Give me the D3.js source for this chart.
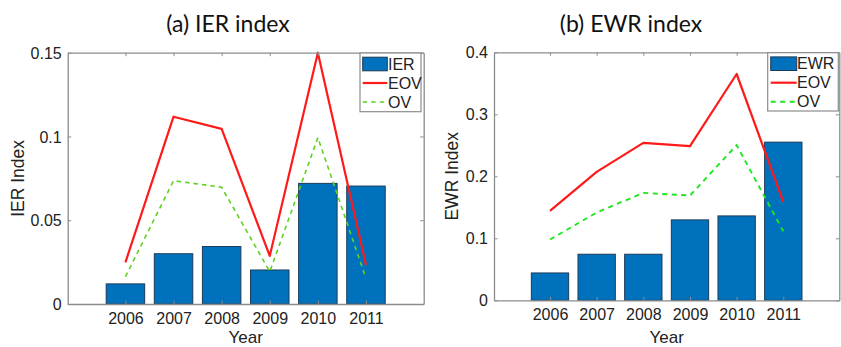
<!DOCTYPE html>
<html>
<head>
<meta charset="utf-8">
<script src="https://cdn.jsdelivr.net/npm/d3@7"></script>
<style>
  html, body { margin: 0; padding: 0; background: #fff; }
  svg { display: block; }
</style>
</head>
<body>
<svg id="chart" width="841" height="347"></svg>
<script>
// Years on the x axis
const years = [2006, 2007, 2008, 2009, 2010, 2011];

// Panel (a): IER index
const ierBars = [0.012, 0.030, 0.0343, 0.0203, 0.072, 0.0704];
const ierEOV  = [0.0249, 0.1118, 0.1045, 0.0287, 0.150, 0.0233];
const ierOV   = [0.0163, 0.0736, 0.0697, 0.0193, 0.0993, 0.0153];
const ierTicks = [0, 0.05, 0.1, 0.15];
const ierTickLabels = ["0", "0.05", "0.1", "0.15"];

// Panel (b): EWR index
const ewrBars = [0.0441, 0.0743, 0.0743, 0.1297, 0.1361, 0.2551];
const ewrEOV  = [0.1442, 0.2072, 0.254, 0.2487, 0.365, 0.1588];
const ewrOV   = [0.098, 0.1416, 0.1733, 0.169, 0.2503, 0.1114];
const ewrTicks = [0, 0.1, 0.2, 0.3, 0.4];
const ewrTickLabels = ["0", "0.1", "0.2", "0.3", "0.4"];

const svg = d3.select("#chart");
const tickFont = "'Liberation Sans', Arial, sans-serif";
const titleFont = "Lato, 'Open Sans', sans-serif";

const panels = [
  {
    title: "(a) IER index", titleX: 228, ylabel: "IER Index", ylabelX: 18,
    barName: "IER", bars: ierBars, eov: ierEOV, ov: ierOV,
    yMax: 0.15, ticks: ierTicks, tickLabels: ierTickLabels,
    left: 67.7, right: 423.7, top: 52.7, bottom: 304,
    ovColor: "#5fd11f", ovWidth: 1.6, ovDash: "4.5,4",
    legend: { x0: 360, x1: 421, y0: 53, y1: 111.7, patchX0: 362.7, patchX1: 387.3, textX: 388 }
  },
  {
    title: "(b) EWR index", titleX: 631, ylabel: "EWR Index", ylabelX: 451.7,
    barName: "EWR", bars: ewrBars, eov: ewrEOV, ov: ewrOV,
    yMax: 0.4, ticks: ewrTicks, tickLabels: ewrTickLabels,
    left: 494, right: 839.3, top: 52.3, bottom: 300.3,
    ovColor: "#1ee61e", ovWidth: 1.9, ovDash: "5,4.5",
    legend: { x0: 767.7, x1: 838.3, y0: 52.7, y1: 111, patchX0: 770.7, patchX1: 796.7, textX: 797 }
  }
];

const barFill = "#0072bd";
const barEdge = "#1c3a57";
const axisColor = "#8c8c8c";
const textColor = "#222";
const eovColor = "#ff1a1a";

panels.forEach(p => {
  const g = svg.append("g");
  const x = d3.scaleLinear().domain([2004.8, 2012.2]).range([p.left, p.right]);
  const y = d3.scaleLinear().domain([0, p.yMax]).range([p.bottom, p.top]);
  const bw = x(2004.8 + 0.8) - x(2004.8);

  // Bars
  g.selectAll("rect.bar").data(years).join("rect")
    .attr("class", "bar")
    .attr("x", (d) => x(d) - bw / 2)
    .attr("width", bw)
    .attr("y", (d, i) => y(p.bars[i]))
    .attr("height", (d, i) => y(0) - y(p.bars[i]))
    .attr("fill", barFill)
    .attr("stroke", barEdge)
    .attr("stroke-width", 1);

  const line = (vals) => d3.line().x((d, i) => x(years[i])).y(d => y(d))(vals);

  g.append("path").attr("d", line(p.eov))
    .attr("fill", "none").attr("stroke", eovColor).attr("stroke-width", 2.2)
    .attr("stroke-linejoin", "round");
  g.append("path").attr("d", line(p.ov))
    .attr("fill", "none").attr("stroke", p.ovColor).attr("stroke-width", p.ovWidth)
    .attr("stroke-dasharray", p.ovDash);

  // Axes box with inward ticks on all sides
  const tl = 3.5;
  const axLeft = d3.axisLeft(y).tickValues(p.ticks).tickSizeInner(-tl).tickSizeOuter(0).tickFormat((d, i) => p.tickLabels[i]);
  const axRight = d3.axisRight(y).tickValues(p.ticks).tickSizeInner(-tl).tickSizeOuter(0).tickFormat("");
  const axBottom = d3.axisBottom(x).tickValues(years).tickSizeInner(-tl).tickSizeOuter(0).tickFormat(d3.format("d"));
  const axTop = d3.axisTop(x).tickValues(years).tickSizeInner(-tl).tickSizeOuter(0).tickFormat("");

  const style = (sel) => {
    sel.select(".domain").attr("stroke", axisColor).attr("stroke-width", 1.3);
    sel.selectAll(".tick line").attr("stroke", axisColor).attr("stroke-width", 1);
    sel.selectAll(".tick text").attr("fill", textColor)
      .attr("font-family", tickFont).attr("font-size", "16px");
  };

  g.append("g").attr("transform", `translate(${p.left},0)`).call(axLeft).call(style)
    .selectAll(".tick text").attr("x", -6).attr("dy", "0.35em");
  g.append("g").attr("transform", `translate(${p.right},0)`).call(axRight).call(style);
  g.append("g").attr("transform", `translate(0,${p.bottom})`).call(axBottom).call(style)
    .selectAll(".tick text").attr("y", 8.5).attr("dy", "0.71em");
  g.append("g").attr("transform", `translate(0,${p.top})`).call(axTop).call(style);

  // Axis labels
  g.append("text")
    .attr("transform", `translate(${p.ylabelX},${(p.top + p.bottom) / 2}) rotate(-90)`)
    .attr("text-anchor", "middle").attr("dominant-baseline", "central")
    .attr("font-family", tickFont).attr("font-size", "17.5px").attr("fill", textColor)
    .text(p.ylabel);
  g.append("text")
    .attr("x", (p.left + p.right) / 2).attr("y", 343)
    .attr("text-anchor", "middle")
    .attr("font-family", tickFont).attr("font-size", "17px").attr("fill", textColor)
    .text("Year");

  // Title
  g.append("text")
    .attr("x", p.titleX).attr("y", 31.5)
    .attr("text-anchor", "middle")
    .attr("font-family", titleFont).attr("font-size", "23px").attr("fill", "#111")
    .text(p.title);

  // Legend
  const L = p.legend;
  const lg = g.append("g");
  lg.append("rect").attr("x", L.x0).attr("y", L.y0)
    .attr("width", L.x1 - L.x0).attr("height", L.y1 - L.y0)
    .attr("fill", "#fff").attr("stroke", axisColor).attr("stroke-width", 1.2);
  const rows = [
    { name: p.barName, type: "bar", cy: L.y0 + 11 },
    { name: "EOV", type: "eov", cy: L.y0 + 30 },
    { name: "OV", type: "ov", cy: L.y0 + 49 }
  ];
  rows.forEach(r => {
    if (r.type === "bar") {
      lg.append("rect").attr("x", L.patchX0).attr("y", r.cy - 6.8)
        .attr("width", L.patchX1 - L.patchX0).attr("height", 13.6)
        .attr("fill", barFill).attr("stroke", barEdge).attr("stroke-width", 1);
    } else {
      lg.append("line").attr("x1", L.patchX0).attr("x2", L.patchX1)
        .attr("y1", r.cy).attr("y2", r.cy)
        .attr("stroke", r.type === "eov" ? eovColor : p.ovColor)
        .attr("stroke-width", r.type === "eov" ? 2.2 : p.ovWidth)
        .attr("stroke-dasharray", r.type === "ov" ? p.ovDash : null);
    }
    lg.append("text").attr("x", L.textX).attr("y", r.cy)
      .attr("dy", "0.36em")
      .attr("font-family", tickFont).attr("font-size", "16px").attr("fill", textColor)
      .text(r.name);
  });
});
</script>
</body>
</html>
